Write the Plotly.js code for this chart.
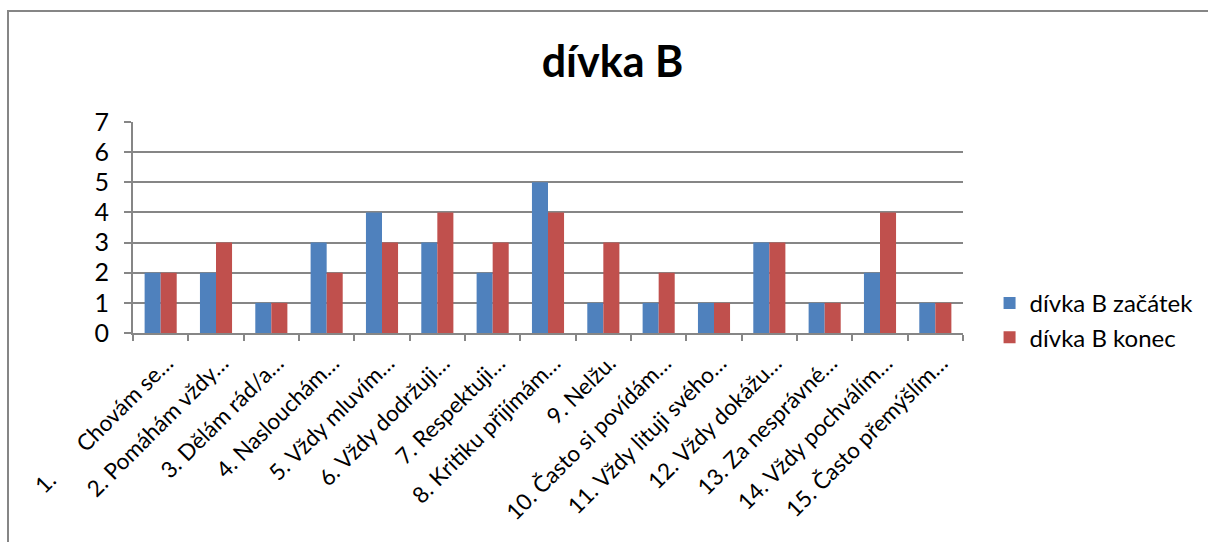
<!DOCTYPE html>
<html>
<head>
<meta charset="utf-8">
<script src="https://cdn.plot.ly/plotly-3.0.1.min.js"></script>
<style>
html,body{margin:0;padding:0;background:#fff;}
#wrap{position:relative;width:1208px;height:542px;}
#chart{position:absolute;left:0;top:0;width:1208px;height:542px;}
#frame{position:absolute;left:7px;top:10px;width:1220px;height:560px;border-left:2px solid #868686;border-top:2px solid #868686;pointer-events:none;}
</style>
</head>
<body>
<div id="wrap"><div id="chart"></div><div id="frame"></div></div>
<script>
const categories = [
  "1.\u00A0\u00A0\u00A0\u00A0\u00A0\u00A0\u00A0Chovám se…",
  "2. Pomáhám vždy…",
  "3. Dělám rád/a…",
  "4. Naslouchám…",
  "5. Vždy mluvím…",
  "6. Vždy dodržuji…",
  "7. Respektuji…",
  "8. Kritiku přijímám…",
  "9. Nelžu.",
  "10. Často si povídám…",
  "11. Vždy lituji svého…",
  "12. Vždy dokážu…",
  "13. Za nesprávné…",
  "14. Vždy pochválím…",
  "15. Často přemýšlím…"
];
const seriesNames = ["dívka B začátek", "dívka B konec"];
const zacatek = [2, 2, 1, 3, 4, 3, 2, 5, 1, 1, 1, 3, 1, 2, 1];
const konec   = [2, 3, 1, 2, 3, 4, 3, 4, 3, 2, 1, 3, 1, 4, 1];
const yTicks = [0, 1, 2, 3, 4, 5, 6, 7];

const font = "Lato, 'Open Sans', 'Liberation Sans', sans-serif";
const data = [
  {type:"bar", name:seriesNames[0], x:categories, y:zacatek, marker:{color:"#4F81BD"}, legendgroup:"a"},
  {type:"bar", name:seriesNames[1], x:categories, y:konec, marker:{color:"#C0504D"}, legendgroup:"b"}
];
const layout = {
  width:1208, height:542,
  margin:{l:133, r:245, t:122, b:209, pad:0, autoexpand:false},
  paper_bgcolor:"rgba(0,0,0,0)", plot_bgcolor:"#fff",
  font:{family:font, color:"#000"},
  title:{text:"<b>dívka B</b>", x:0.507, xanchor:"center", y:0.886, yanchor:"middle", xref:"container", yref:"container",
         font:{family:font, size:43, color:"#000"}},
  barmode:"group", bargap:0.42, bargroupgap:0,
  xaxis:{type:"category", tickangle:-45, tickson:"boundaries", ticks:"outside", ticklen:6, tickcolor:"#868686", tickwidth:2,
         showline:true, linecolor:"#868686", linewidth:2, showgrid:false, ticklabelstandoff:6, ticklabelshift:6,
         tickfont:{family:font, size:22.5, color:"#000"}, automargin:false},
  yaxis:{range:[0,7], tickvals:yTicks, ticktext:yTicks.map(String), ticks:"outside", ticklen:7, tickcolor:"#868686", tickwidth:2,
         showline:true, linecolor:"#868686", linewidth:2, showgrid:true, gridcolor:"#868686", gridwidth:2,
         zeroline:false, tickfont:{family:font, size:25, color:"#000"}, ticklabelstandoff:10, automargin:false},
  legend:{x:1.032, xanchor:"left", y:0.06, yanchor:"middle", traceorder:"normal", tracegroupgap:24,
          font:{family:font, size:24, color:"#000"}, bgcolor:"rgba(0,0,0,0)", itemwidth:30},
  showlegend:true
};
Plotly.newPlot("chart", data, layout, {displayModeBar:false, staticPlot:true});
</script>
</body>
</html>
